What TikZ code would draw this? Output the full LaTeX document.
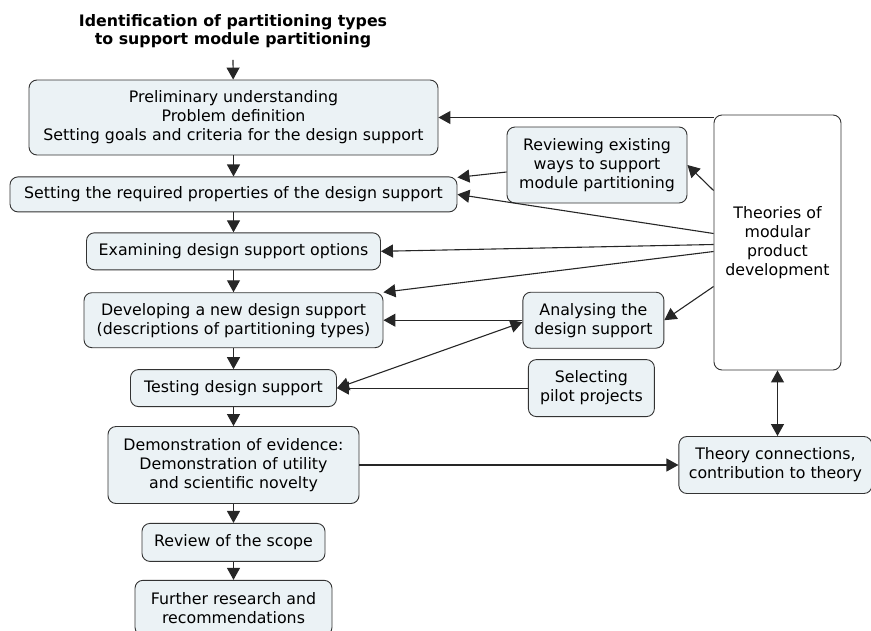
\documentclass[tikz,border=0pt]{standalone}
\usepackage{fontspec}
\setmainfont{DejaVu Sans}
\usepackage{xcolor}
\usepackage{tikz}
\usetikzlibrary{arrows.meta,positioning,calc}

\definecolor{boxfill}{HTML}{EBF2F5}
\definecolor{boxline}{HTML}{333333}

\begin{document}
\begin{tikzpicture}[
    x=1pt, y=-1pt,
    node distance=21pt,
    stepbox/.style={rectangle, draw=boxline, fill=boxfill, line width=0.9pt, rounded corners=8pt, align=center, inner sep=0pt, font=\fontsize{15.8}{19}\selectfont},
    theorybox/.style={stepbox, fill=white},
    arrow/.style={-{Triangle[length=12pt,width=13pt]}, line width=1.1pt, black!85},
    biarrow/.style={arrow, {Triangle[length=12pt,width=13pt]}-{Triangle[length=12pt,width=13pt]}}
]
    \useasboundingbox (0,0) rectangle (871,630);

    % Title
    \node[font=\fontsize{15.8}{18}\selectfont\bfseries, align=center, inner sep=0pt] (title) at (233,31) {Identification of partitioning types\\ to support module partitioning};

    % Main steps
    \node[stepbox, minimum width=409pt, minimum height=75pt] (prelim) at (233.5,117.5) {Preliminary understanding\\Problem definition\\Setting goals and criteria for the design support};
    \node[stepbox, minimum width=447pt, minimum height=35pt, below=21pt of prelim] (props) {Setting the required properties of the design support};
    \node[stepbox, minimum width=294pt, minimum height=37pt, below=20pt of props] (exam) {Examining design support options};
    \node[stepbox, minimum width=299pt, minimum height=55pt, below=22pt of exam] (dev) {Developing a new design support\\(descriptions of partitioning types)};
    \node[stepbox, minimum width=206pt, minimum height=37pt, below=21pt of dev] (test) {Testing design support};
    \node[stepbox, minimum width=251pt, minimum height=77pt, below=19pt of test] (demo) {Demonstration of evidence:\\Demonstration of utility\\and scientific novelty};
    \node[stepbox, minimum width=183pt, minimum height=38pt, below=19pt of demo] (review) {Review of the scope};
    \node[stepbox, minimum width=197pt, minimum height=55pt, below=18pt of review] (further) {Further research and\\recommendations};

    % Side boxes
    \node[stepbox, minimum width=180pt, minimum height=76pt] (reviewing) at (597,165) {Reviewing existing\\ways to support\\module partitioning};
    \node[theorybox, minimum width=127pt, minimum height=255pt] (theories) at (777.5,242.5) {Theories of\\modular\\product\\development};
    \node[stepbox, minimum width=141pt, minimum height=56pt, right=139pt of dev] (analysing) {Analysing the\\design support};
    \node[stepbox, minimum width=126pt, minimum height=57pt, right=191pt of test] (selecting) {Selecting\\pilot projects};
    \node[stepbox, minimum width=193pt, minimum height=57pt, right=319pt of demo] (theoryconn) {Theory connections,\\contribution to theory};

    % Main flow
    \draw[arrow] ([yshift=-12pt]title.south) -- (prelim);
    \draw[arrow] (prelim) -- (props);
    \draw[arrow] (props) -- (exam);
    \draw[arrow] (exam) -- (dev);
    \draw[arrow] (dev) -- (test);
    \draw[arrow] (test) -- (demo);
    \draw[arrow] (demo) -- (review);
    \draw[arrow] (review) -- (further);

    % From theories
    \draw[arrow] (theories.north west |- prelim.east) -- (prelim.east);
    \draw[arrow] ([yshift=52pt]theories.west) -- (reviewing.east);
    \draw[arrow] ([yshift=9pt]theories.west) -- (props.east);
    \draw[arrow] ([yshift=-2pt]theories.west) -- (exam.east);
    \draw[arrow] ([yshift=-9pt]theories.west) -- (dev.north east);
    \draw[arrow] ([yshift=-44pt]theories.west) -- (analysing.east);
    \draw[arrow] ([yshift=-7pt]reviewing.west) -- ([yshift=17pt]props.east);

    % Analysis and testing
    \draw[arrow] (analysing.west) -- (dev.east);
    \draw[biarrow] (test.east) -- ([yshift=-2pt]analysing.west);
    \draw[arrow] (selecting.west) -- (test.east);

    % Theory contribution
    \draw[arrow] (demo.east) -- (theoryconn.west);
    \draw[biarrow] (theories.south) -- (theories.south |- theoryconn.north);
\end{tikzpicture}
\end{document}
